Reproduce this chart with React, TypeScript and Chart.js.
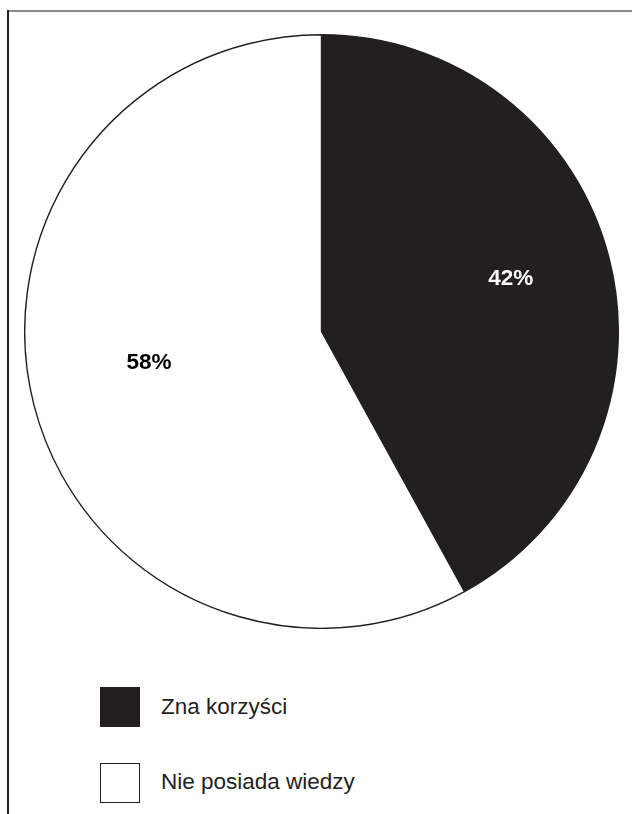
import React, { useEffect, useRef } from "react";
import { Chart, registerables } from "chart.js";

Chart.register(...registerables);

const categories = ["Zna korzyści", "Nie posiada wiedzy"];
const values = [42, 58];
const valueLabels = ["42%", "58%"];
const sliceColors = ["#231f20", "#ffffff"];
const labelColors = ["#ffffff", "#000000"];

const FONT = "'Liberation Sans', Arial, Helvetica, sans-serif";

const percentLabels = {
  id: "percentLabels",
  afterDatasetsDraw(chart: any, _args: any, opts: any) {
    const ctx = chart.ctx;
    const meta = chart.getDatasetMeta(0);
    ctx.save();
    ctx.font = `bold 22.5px ${FONT}`;
    ctx.textAlign = "center";
    ctx.textBaseline = "middle";
    meta.data.forEach((arc: any, i: number) => {
      const p = arc.getProps(["x", "y", "startAngle", "endAngle", "outerRadius"], true);
      const adj = (opts.adjust && opts.adjust[i]) || { r: 0.63, da: 0 };
      const mid = (p.startAngle + p.endAngle) / 2 + (adj.da * Math.PI) / 180;
      const r = p.outerRadius * adj.r;
      ctx.fillStyle = labelColors[i];
      ctx.fillText(valueLabels[i], p.x + Math.cos(mid) * r, p.y + Math.sin(mid) * r + 1);
    });
    ctx.restore();
  },
};

export default function App() {
  const canvasRef = useRef<HTMLCanvasElement | null>(null);

  useEffect(() => {
    const prevMargin = document.body.style.margin;
    document.body.style.margin = "0";
    const chart = new Chart(canvasRef.current as HTMLCanvasElement, {
      type: "pie",
      data: {
        labels: categories,
        datasets: [
          {
            data: values,
            backgroundColor: sliceColors,
            borderColor: "#231f20",
            borderWidth: 1.4,
            hoverBorderWidth: 1.4,
            hoverOffset: 0,
          },
        ],
      },
      options: {
        animation: false,
        responsive: false,
        maintainAspectRatio: false,
        events: [],
        layout: { padding: 0 },
        plugins: {
          legend: { display: false },
          tooltip: { enabled: false },
          percentLabels: {
            adjust: [
              { r: 0.663, da: -1.4 },
              { r: 0.59, da: 4.3 },
            ],
          },
        } as any,
      },
      plugins: [percentLabels],
    });
    return () => {
      chart.destroy();
      document.body.style.margin = prevMargin;
    };
  }, []);

  return (
    <div
      style={{
        position: "relative",
        width: 632,
        height: 814,
        background: "#ffffff",
        overflow: "hidden",
        fontFamily: FONT,
      }}
    >
      <div
        style={{
          position: "absolute",
          left: 7,
          top: 10,
          right: 0,
          height: 2,
          background: "#8a8a8a",
        }}
      />
      <div
        style={{
          position: "absolute",
          left: 7,
          top: 10,
          bottom: 0,
          width: 2,
          background: "#231f20",
        }}
      />
      <canvas
        ref={canvasRef}
        width={595}
        height={595}
        style={{ position: "absolute", left: 24, top: 34, width: 595, height: 595 }}
      />
      {categories.map((c, i) => (
        <div key={c}>
          <div
            style={{
              position: "absolute",
              left: 100,
              top: 687 + i * 76,
              width: 40,
              height: 40,
              boxSizing: "border-box",
              border: "1.5px solid #231f20",
              background: sliceColors[i],
            }}
          />
          <div
            style={{
              position: "absolute",
              left: 161,
              top: 707 + i * 75,
              transform: "translateY(-50%)",
              fontSize: 22.5,
              color: "#231f20",
              whiteSpace: "nowrap",
              lineHeight: 1,
            }}
          >
            {c}
          </div>
        </div>
      ))}
    </div>
  );
}
